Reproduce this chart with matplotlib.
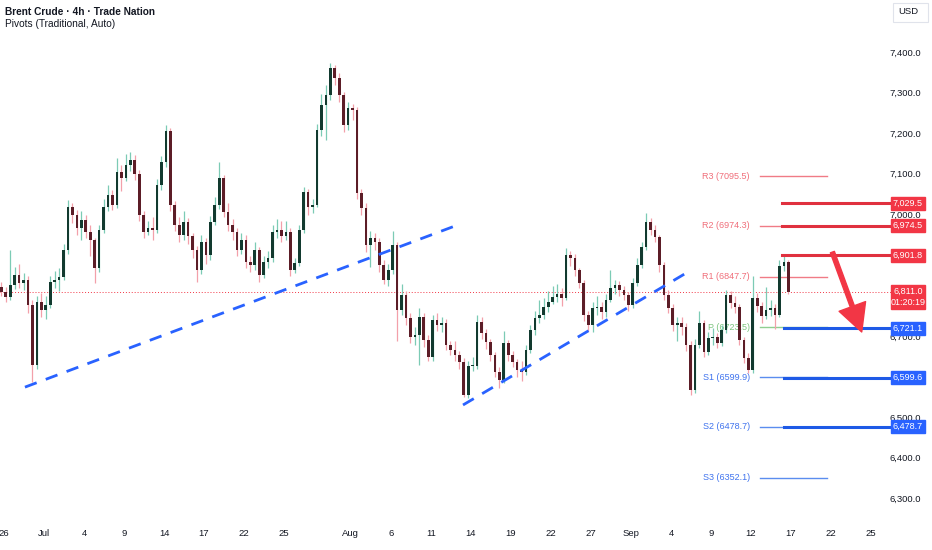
import numpy as np
import matplotlib
matplotlib.use("Agg")
import matplotlib.pyplot as plt
import matplotlib.transforms as mtransforms
from matplotlib.patches import Rectangle

plt.rcParams['font.family'] = ['Liberation Sans', 'DejaVu Sans']

# 8h-ish candles (price x100 as quoted by Trade Nation)
first_open = 6822
closes = [6811, 6798, 6828, 6853, 6833, 6840, 6779, 6631, 6786, 6766,
          6779, 6835, 6840, 6848, 6914, 7020, 7000, 6968, 6988, 6959,
          6939, 6870, 6963, 7020, 7050, 7025, 7106, 7092, 7124, 7136,
          7102, 7000, 6959, 6968, 6963, 7074, 7131, 7208, 7025, 6976,
          6951, 6983, 6949, 6914, 6865, 6934, 6902, 6983, 7025, 7092,
          7008, 6976, 6959, 6914, 6939, 6885, 6877, 6914, 6853, 6885,
          6894, 6959, 6963, 6949, 6959, 6865, 6882, 6963, 7057, 7020,
          7025, 7210, 7272, 7296, 7363, 7338, 7296, 7222, 7264, 7259,
          7055, 7018, 6927, 6944, 6934, 6877, 6840, 6865, 6927, 6766,
          6803, 6747, 6700, 6705, 6749, 6692, 6650, 6742, 6729, 6734,
          6680, 6668, 6655, 6638, 6557, 6628, 6628, 6737, 6710, 6687,
          6655, 6613, 6594, 6685, 6655, 6638, 6618, 6613, 6668, 6717,
          6747, 6754, 6774, 6786, 6798, 6806, 6796, 6902, 6895, 6865,
          6833, 6754, 6729, 6771, 6774, 6761, 6791, 6821, 6828, 6816,
          6803, 6779, 6833, 6877, 6922, 6983, 6964, 6946, 6877, 6803,
          6771, 6729, 6734, 6724, 6680, 6569, 6680, 6734, 6663, 6697,
          6700, 6685, 6717, 6803, 6783, 6774, 6692, 6648, 6618, 6796,
          6776, 6751, 6766, 6771, 6754, 6875, 6885, 6811]
highs = [6835, 6822, 6914, 6872, 6880, 6858, 6850, 6790, 6800, 6808,
         6800, 6850, 6862, 6870, 6930, 7038, 7030, 7012, 7010, 7000,
         6975, 6945, 6975, 7040, 7075, 7062, 7140, 7125, 7150, 7156,
         7148, 7112, 7010, 6985, 6995, 7090, 7145, 7222, 7215, 7035,
         6995, 7010, 6992, 6955, 6925, 6950, 6945, 6998, 7045, 7131,
         7100, 7030, 6990, 6968, 6955, 6950, 6900, 6935, 6922, 6900,
         6912, 6975, 6990, 6985, 6985, 6968, 6895, 6975, 7070, 7065,
         7040, 7225, 7300, 7320, 7375, 7370, 7350, 7305, 7280, 7275,
         7268, 7065, 7030, 6960, 6955, 6945, 6890, 6880, 6960, 6935,
         6830, 6812, 6760, 6725, 6770, 6760, 6705, 6755, 6760, 6750,
         6745, 6690, 6690, 6665, 6648, 6640, 6650, 6755, 6748, 6720,
         6695, 6662, 6625, 6715, 6692, 6665, 6645, 6640, 6680, 6730,
         6765, 6790, 6795, 6812, 6825, 6830, 6820, 6920, 6912, 6905,
         6870, 6840, 6765, 6785, 6800, 6785, 6805, 6865, 6840, 6838,
         6825, 6810, 6845, 6895, 6935, 7006, 6992, 6975, 6952, 6885,
         6815, 6780, 6750, 6748, 6735, 6690, 6695, 6765, 6742, 6712,
         6722, 6710, 6730, 6815, 6812, 6800, 6780, 6700, 6660, 6850,
         6808, 6785, 6822, 6790, 6782, 6890, 6902, 6890]
lows = [6800, 6785, 6790, 6818, 6820, 6815, 6760, 6589, 6620, 6750,
        6745, 6770, 6820, 6812, 6840, 6905, 6980, 6950, 6940, 6945,
        6900, 6833, 6860, 6955, 7010, 7012, 7018, 7060, 7085, 7110,
        7088, 6985, 6945, 6950, 6940, 6955, 7062, 7120, 7010, 6960,
        6935, 6940, 6930, 6895, 6835, 6855, 6880, 6890, 6975, 7015,
        6995, 6960, 6940, 6900, 6905, 6870, 6860, 6865, 6835, 6845,
        6870, 6885, 6945, 6935, 6940, 6850, 6858, 6875, 6955, 7000,
        7005, 7020, 7195, 7186, 7285, 7320, 7280, 7205, 7210, 7235,
        7040, 7000, 6910, 6873, 6915, 6860, 6830, 6825, 6855, 6690,
        6755, 6730, 6685, 6680, 6630, 6675, 6640, 6640, 6715, 6712,
        6668, 6655, 6640, 6620, 6552, 6550, 6615, 6620, 6695, 6670,
        6640, 6600, 6575, 6585, 6640, 6625, 6600, 6590, 6605, 6660,
        6705, 6735, 6745, 6762, 6780, 6785, 6775, 6790, 6875, 6850,
        6820, 6740, 6715, 6712, 6755, 6745, 6750, 6785, 6805, 6800,
        6790, 6765, 6772, 6825, 6870, 6915, 6950, 6935, 6860, 6790,
        6760, 6715, 6690, 6705, 6665, 6557, 6562, 6672, 6650, 6655,
        6680, 6672, 6678, 6710, 6770, 6760, 6680, 6635, 6610, 6612,
        6762, 6735, 6745, 6752, 6720, 6748, 6862, 6805]

# time axis (trading days from Jun 26)
tick_days = [0, 3, 6, 9, 12, 15, 18, 21, 26, 29, 32, 35, 38, 41, 44, 47,
             50, 53, 56, 59, 62, 65]
tick_labels = ['26', 'Jul', '4', '9', '14', '17', '22', '25', 'Aug', '6',
               '11', '14', '19', '22', '27', 'Sep', '4', '9', '12', '17',
               '22', '25']
price_ticks = [6300, 6400, 6500, 6600, 6700, 6800, 6900, 7000, 7100,
               7200, 7300, 7400]

# pivots (Traditional, Auto)
pivot_names = ['R3', 'R2', 'R1', 'P', 'S1', 'S2', 'S3']
pivot_values = [7095.5, 6974.3, 6847.7, 6723.5, 6599.9, 6478.7, 6352.1]

# drawn horizontal levels
res_levels = [7029.5, 6974.5, 6901.8]
sup_levels = [6721.1, 6599.6, 6478.7]
last_price = 6811.0
countdown = '01:20:19'

# trendlines (day, price)
trend1 = [(1.57, 6576), (34.18, 6978)]
trend2 = [(34.41, 6532), (51.12, 6857)]
arrow_from = (62.1, 6909)
arrow_to = (64.3, 6712)

RED = '#f23645'
BLUE = '#2962ff'
TXT = '#131722'
FS = 6.8
BFS = 6.5

n = len(closes)
opens = [first_open] + closes[:-1]
days = np.arange(n) / 3.0 - 0.2
o = np.array(opens, float)
c = np.array(closes, float)
h = np.array(highs, float)
l = np.array(lows, float)
up = c >= o

fig = plt.figure(figsize=(9.32, 5.5), dpi=100)
ax = fig.add_axes([0, 35 / 550, 892 / 932, 515 / 550])
ax.set_xlim(-0.3, 66.57)
ax.set_ylim(6260.7, 7530.7)
ax.axis('off')
ppu = (7530.7 - 6260.7) / 515.0  # price per pixel

# candles
ax.vlines(days[up], l[up], h[up], color='#7ccbb5', lw=0.9, zorder=3)
ax.vlines(days[~up], l[~up], h[~up], color='#f3a0aa', lw=0.9, zorder=3)
body_lo = np.minimum(o, c)
body_h = np.maximum(np.abs(c - o), 2.0)
ax.bar(days[up], body_h[up], bottom=body_lo[up], width=0.2,
       color='#123a2f', zorder=4)
ax.bar(days[~up], body_h[~up], bottom=body_lo[~up], width=0.2,
       color='#5c1d27', zorder=4)

# last price dotted line
ax.axhline(last_price, color=RED, lw=0.7, ls=(0, (1, 2)), zorder=2)

# trendlines
for tl in (trend1, trend2):
    ax.plot([tl[0][0], tl[1][0]], [tl[0][1], tl[1][1]], color=BLUE, lw=2,
            ls=(0, (4.5, 3.5)), zorder=5)

# pivot lines + labels
piv_col = {'R': ('#f07b86', '#f06e7a'), 'P': ('#8fcf91', '#7cc47f'),
           'S': ('#5b8def', '#3f73ee')}
for name, val in zip(pivot_names, pivot_values):
    lc, tc = piv_col[name[0]]
    ax.plot([56.67, 61.7], [val, val], color=lc, lw=1, zorder=2)
    ax.text(55.9, val, f'{name} ({val:.1f})', color=tc, fontsize=6.5,
            ha='right', va='center', zorder=2)

for v in res_levels:
    ax.plot([58.3, 66.57], [v, v], color='#e0313f', lw=2.2, zorder=5)
for v in sup_levels:
    ax.plot([58.5, 66.57], [v, v], color='#1e5ae6', lw=2.2, zorder=5)

# red arrow
ax.annotate('', xy=arrow_to, xytext=arrow_from,
            arrowprops=dict(arrowstyle='simple,head_length=1.4,head_width=1.45,tail_width=0.22',
                            color=RED, mutation_scale=14, shrinkA=0, shrinkB=0),
            zorder=6)

# price axis on the right
ptr = mtransforms.blended_transform_factory(fig.transFigure, ax.transData)
box_levels = res_levels + sup_levels + [last_price]
for p in price_ticks:
    if min(abs(p - b) for b in box_levels) < 6 * ppu:
        continue  # fully covered by a price box
    ax.text(921 / 932, p, f'{p:,.1f}', transform=ptr, ha='right', va='center',
            fontsize=FS, color=TXT, clip_on=False, zorder=7)

box_l = 891 / 932
box_w = 34 / 932
box_c = 908 / 932
for v, col in [(x, RED) for x in res_levels] + [(x, BLUE) for x in sup_levels]:
    ax.add_patch(Rectangle((box_l, v - 6.5 * ppu), box_w, 13 * ppu,
                           transform=ptr, color=col, clip_on=False, zorder=8))
    ax.text(box_c, v, f'{v:,.1f}', transform=ptr, ha='center', va='center',
            fontsize=BFS, color='white', clip_on=False, zorder=9)

ax.add_patch(Rectangle((box_l, last_price - 17.5 * ppu), box_w, 24 * ppu,
                       transform=ptr, color=RED, clip_on=False, zorder=8))
ax.text(box_c, last_price + 0.5 * ppu, f'{last_price:,.1f}', transform=ptr,
        ha='center', va='center', fontsize=BFS, color='white', clip_on=False,
        zorder=9)
ax.text(box_c, last_price - 10.5 * ppu, countdown, transform=ptr,
        ha='center', va='center', fontsize=BFS, color='white', clip_on=False,
        zorder=9)

# time axis
ttr = mtransforms.blended_transform_factory(ax.transData, fig.transFigure)
for d, lab in zip(tick_days, tick_labels):
    ax.text(d, 1 - 533 / 550, lab, transform=ttr, ha='center', va='center',
            fontsize=FS, color=TXT, clip_on=False)

# header
fig.text(5 / 932, 1 - 12 / 550, 'Brent Crude · 4h · Trade Nation', fontsize=7.3,
         color=TXT, fontweight='bold', va='center')
fig.text(5 / 932, 1 - 24 / 550, 'Pivots (Traditional, Auto)', fontsize=7.3,
         color=TXT, va='center')

# currency box
fig.patches.append(Rectangle((893 / 932, 1 - 22 / 550), 35 / 932, 19 / 550,
                             transform=fig.transFigure, fc='white',
                             ec='#e0e3eb', lw=0.8))
fig.text(898 / 932, 1 - 12 / 550, 'USD', fontsize=6.8, color=TXT, va='center')

fig.savefig('out.png', dpi=100, facecolor='white')
